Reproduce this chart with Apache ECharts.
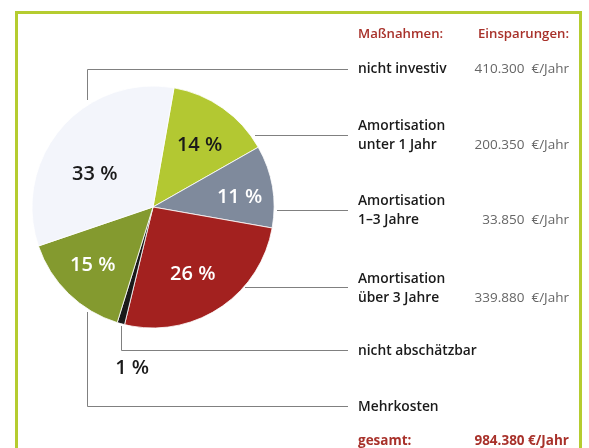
<!DOCTYPE html>
<html><head><meta charset="utf-8">
<script src="https://cdn.jsdelivr.net/npm/echarts@6/dist/echarts.min.js"></script>
<style>html,body{margin:0;padding:0;background:#fff}#c{width:589px;height:448px}</style>
</head><body><div id="c"></div>
<script>
// Data
const categories = ['Amortisation unter 1 Jahr', 'Amortisation 1–3 Jahre', 'Amortisation über 3 Jahre', 'nicht abschätzbar', 'Mehrkosten', 'nicht investiv'];
const shares = [14, 11, 26, 1, 15, 33];
const legendNames = ['nicht investiv', 'Amortisation\nunter 1 Jahr', 'Amortisation\n1–3 Jahre', 'Amortisation\nüber 3 Jahre', 'nicht abschätzbar', 'Mehrkosten'];
const savings = ['410.300  €/Jahr', '200.350  €/Jahr', '33.850  €/Jahr', '339.880  €/Jahr', '', ''];
const totalLabel = 'gesamt:';
const totalValue = '984.380 €/Jahr';
const headerLeft = 'Maßnahmen:';
const headerRight = 'Einsparungen:';

const colors = ['#b3c832', '#7f8a9c', '#a3211f', '#1a1a1a', '#849a2f', '#f3f5fb'];
const labelColors = ['#1a1a1a', '#ffffff', '#ffffff', '#1a1a1a', '#ffffff', '#1a1a1a'];
const labelOffsets = [[10, -10], [24, 1], [5, 14], [-4, 100], [-16, 13], [-10, 9]];

const FONT = '"Open Sans", "Noto Sans", sans-serif';
const chart = echarts.init(document.getElementById('c'), null, {renderer: 'canvas'});

const data = categories.map((c, i) => ({
  name: c, value: shares[i],
  itemStyle: {color: colors[i]},
  label: {color: labelColors[i], offset: labelOffsets[i]}
}));

const rowY = [69, 126, 201, 279, 351, 407];
const graphics = [];
graphics.push({type: 'rect', shape: {x: 16.5, y: 12.5, width: 564, height: 470}, style: {fill: null, stroke: '#b5cc30', lineWidth: 3}, z: 1});
graphics.push({type: 'text', x: 358, y: 34, style: {text: headerLeft, font: '600 13.2px ' + FONT, fill: '#a8312a', textVerticalAlign: 'middle'}});
graphics.push({type: 'text', x: 569, y: 34, style: {text: headerRight, font: '600 13.2px ' + FONT, fill: '#a8312a', textAlign: 'right', textVerticalAlign: 'middle'}});
legendNames.forEach((n, i) => {
  const lines = n.split('\n');
  lines.forEach((ln, k) => {
    graphics.push({type: 'text', x: 358, y: rowY[i] + k * 19, style: {text: ln, font: '600 13.8px ' + FONT, fill: '#1a1a1a', textVerticalAlign: 'middle'}});
  });
  if (savings[i]) {
    graphics.push({type: 'text', x: 569, y: rowY[i] + (lines.length - 1) * 19, style: {text: savings[i], font: '400 13.5px ' + FONT, fill: '#666', textAlign: 'right', textVerticalAlign: 'middle'}});
  }
});
graphics.push({type: 'text', x: 358, y: 441, style: {text: totalLabel, font: '700 13.5px ' + FONT, fill: '#a8312a', textVerticalAlign: 'middle'}});
graphics.push({type: 'text', x: 569, y: 441, style: {text: totalValue, font: '700 13.5px ' + FONT, fill: '#a8312a', textAlign: 'right', textVerticalAlign: 'middle'}});

const lineStyle = {stroke: '#808080', lineWidth: 1, fill: null};
const leaders = [
  [[87.5, 100], [87.5, 69.5], [348, 69.5]],
  [[255, 135.5], [348, 135.5]],
  [[277, 210.5], [348, 210.5]],
  [[245, 287.5], [348, 287.5]],
  [[121.5, 326], [121.5, 350.5], [348, 350.5]],
  [[87.5, 312], [87.5, 406.5], [348, 406.5]]
];
leaders.forEach(p => graphics.push({type: 'polyline', shape: {points: p}, style: lineStyle, z: 0}));

chart.setOption({
  backgroundColor: '#ffffff',
  animation: false,
  graphic: graphics,
  series: [{
    type: 'pie',
    center: [153, 207],
    radius: 121,
    startAngle: 80,
    clockwise: true,
    data: data,
    itemStyle: {borderColor: '#ffffff', borderWidth: 0.8},
    label: {
      show: true, position: 'inside',
      formatter: p => p.value + ' %',
      fontFamily: FONT, fontSize: 20, fontWeight: 600
    },
    labelLine: {show: false},
    emphasis: {disabled: true},
    z: 3
  }]
});
</script></body></html>
